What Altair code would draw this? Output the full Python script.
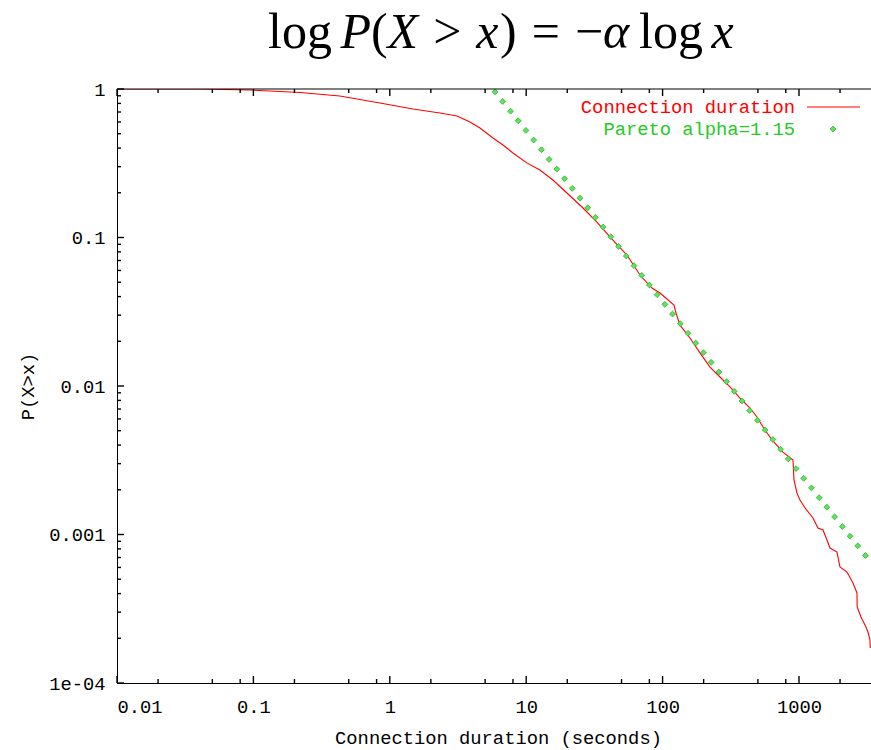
import math
import altair as alt
import pandas as pd

# ---------------- data ----------------
conn_x = [0.01, 0.0406, 0.0944, 0.22, 0.43, 0.847, 1.48, 2.33, 3.11, 3.87,
          4.58, 5.71, 6.76, 8.0, 10.1, 12.6, 15.7, 19.9, 26.1, 33.0,
          41.1, 54.8, 68.3, 83.6, 95.7, 121.2, 125.4, 134.2, 158.8, 188.0,
          222.6, 263.6, 312.0, 369.4, 437.3, 492.0, 545.0, 634.0, 763.0, 904.0,
          919.0, 967.0, 1017.0, 1107.0, 1266.0, 1378.0, 1500.0, 1604.0, 1688.0, 1899.0,
          1998.0, 2249.0, 2489.0, 2662.0, 2670.0, 2848.0, 3099.0, 3205.0, 3315.0, 3330.0]
conn_p = [1.0, 1.0, 0.985, 0.947, 0.897, 0.805, 0.733, 0.689, 0.658, 0.600,
          0.546, 0.468, 0.420, 0.371, 0.318, 0.285, 0.244, 0.1993, 0.158, 0.127,
          0.1008, 0.0762, 0.0559, 0.0457, 0.0423, 0.0351, 0.0310, 0.0257, 0.02104, 0.0167,
          0.01342, 0.0115, 0.00985, 0.0083, 0.00711, 0.00618, 0.0053, 0.00433, 0.00359, 0.003175,
          0.00233, 0.0019, 0.001707, 0.001509, 0.001291, 0.001106, 0.001072, 0.000918, 0.000811, 0.000762,
          0.000604, 0.000559, 0.000471, 0.000404, 0.000325, 0.000278, 0.000238, 0.000220, 0.000195, 0.000172]

pareto_x = [5.914, 6.737, 7.676, 8.743, 9.959, 11.34, 12.92, 14.72, 16.77, 19.10,
            21.76, 24.79, 28.24, 32.16, 36.64, 41.74, 47.53, 54.15, 61.68, 70.27,
            80.03, 91.19, 103.9, 118.3, 134.8, 153.6, 174.9, 199.2, 226.9, 258.5,
            294.4, 335.4, 382.1, 435.3, 495.9, 564.9, 643.5, 732.8, 834.8, 951.0,
            1083.0, 1234.0, 1406.0, 1601.0, 1824.0, 2078.0, 2367.0, 2696.0, 3071.0]
pareto_p = [0.957, 0.824, 0.709, 0.611, 0.526, 0.453, 0.390, 0.3355, 0.2888, 0.2486,
            0.2141, 0.1842, 0.1586, 0.1366, 0.1176, 0.1012, 0.0871, 0.0750, 0.0646, 0.0556,
            0.0479, 0.0412, 0.03546, 0.03054, 0.02629, 0.02263, 0.01949, 0.01678, 0.01444, 0.01243,
            0.01070, 0.00921, 0.00793, 0.00683, 0.00588, 0.00506, 0.00436, 0.00375, 0.00323, 0.00278,
            0.00239, 0.00206, 0.00177, 0.001527, 0.001314, 0.001131, 0.000974, 0.000839, 0.000722]

series_names = ["Connection duration", "Pareto alpha=1.15"]

x_major = [0.01, 0.1, 1, 10, 100, 1000]
x_major_labels = ["0.01", "0.1", "1", "10", "100", "1000"]
x_minor = [0.02, 0.05, 0.08, 0.2, 0.5, 0.8, 2, 5, 8, 20, 50, 80, 200, 500, 800, 2000]
y_major = [1, 0.1, 0.01, 0.001, 0.0001]
y_major_labels = ["1", "0.1", "0.01", "0.001", "1e-04"]
y_minor = [k * 10.0 ** e for e in (-4, -3, -2, -1) for k in range(2, 10)]

x_domain = [0.01, 3373]
y_domain = [0.0001, 1]

# ---------------- layout ----------------
W, H = 754, 594
MONO = "Liberation Mono"
FS = 18.8

def label_expr(vals, labs):
    parts = [f"abs(log(datum.value)/LN10 - ({math.log10(v):.4f})) < 0.01 ? '{l}'" for v, l in zip(vals, labs)]
    return " : ".join(parts) + " : ''"

xscale = alt.Scale(type="log", domain=x_domain, nice=False, zero=False)
yscale = alt.Scale(type="log", domain=y_domain, nice=False, zero=False)

# main axes: labels + border line
x_axis = alt.Axis(values=x_major, labelExpr=label_expr(x_major, x_major_labels), ticks=False, grid=False,
                  domain=True, domainColor="black", domainWidth=1, labelFont=MONO, labelFontSize=FS,
                  labelColor="black", labelPadding=14, title="Connection duration (seconds)",
                  titleFont=MONO, titleFontSize=FS, titleFontWeight="normal", titleColor="black",
                  titleX=381, titleY=54, titleBaseline="middle", titleAlign="center")
y_axis = alt.Axis(values=y_major, labelExpr=label_expr(y_major, y_major_labels), ticks=False, grid=False,
                  domain=True, domainColor="black", domainWidth=1, labelFont=MONO, labelFontSize=FS,
                  labelColor="black", labelPadding=12, labelBaseline="middle", title="P(X>x)",
                  titleFont=MONO, titleFontSize=FS, titleFontWeight="normal", titleColor="black",
                  titleX=-90, titleY=H / 2, titleBaseline="middle", titleAlign="center", titleAngle=-90)

one = pd.DataFrame({"a": [0]})
conn_df = pd.DataFrame({"x": conn_x, "y": conn_p, "i": list(range(len(conn_x)))})
par_df = pd.DataFrame({"x": pareto_x, "y": pareto_p})

X = alt.X("x:Q", scale=xscale, axis=x_axis)
Y = alt.Y("y:Q", scale=yscale, axis=y_axis)

layers = []
layers.append(alt.Chart(conn_df).mark_line(color="#ff0000", strokeWidth=1.1, clip=True).encode(
    x=X, y=Y, order="i:Q"))
layers.append(alt.Chart(par_df).mark_point(shape="diamond", filled=True, size=34, fill="#66dd66",
                                           stroke="#2cbf2c", strokeWidth=0.9, opacity=1, clip=True).encode(
    x=X, y=Y))

# inward tick marks (gnuplot style) drawn as short rules
TICK_COLOR = "#000000"
TICK_W = 1.4

def xt(vals, ln, top):
    y0, y1 = (0, ln) if top else (H, H - ln)
    return alt.Chart(pd.DataFrame({"x": vals})).mark_rule(color=TICK_COLOR, strokeWidth=TICK_W, opacity=1).encode(
        x=X, y=alt.value(y0), y2=alt.value(y1))

def yt(vals, ln):
    return alt.Chart(pd.DataFrame({"y": vals})).mark_rule(color=TICK_COLOR, strokeWidth=TICK_W, opacity=1).encode(
        y=Y, x=alt.value(0), x2=alt.value(ln))

layers += [xt(x_major, 7, False), xt(x_minor, 4, False), xt(x_major, 7, True), xt(x_minor, 4, True),
           yt(y_major, 7), yt(y_minor, 4)]

# top border
layers.append(alt.Chart(one).mark_rule(color="black", strokeWidth=1).encode(
    x=alt.value(0), x2=alt.value(W), y=alt.value(0)))

# legend
layers.append(alt.Chart(one).mark_text(text=series_names[0], font=MONO, fontSize=FS, color="#ff0000",
                                       align="right", baseline="middle").encode(
    x=alt.value(678), y=alt.value(18)))
layers.append(alt.Chart(one).mark_text(text=series_names[1], font=MONO, fontSize=FS, color="#22cc22",
                                       align="right", baseline="middle").encode(
    x=alt.value(678), y=alt.value(40)))
layers.append(alt.Chart(one).mark_rule(color="#ff0000", strokeWidth=1.1).encode(
    x=alt.value(690), x2=alt.value(743), y=alt.value(18)))
layers.append(alt.Chart(one).mark_point(shape="diamond", filled=True, size=34, fill="#66dd66",
                                        stroke="#2cbf2c", strokeWidth=0.9, opacity=1).encode(
    x=alt.value(716), y=alt.value(40)))

# title: log P(X > x) = −α log x  (math-style, serif)
GW = {'l': 0.278, 'o': 0.5, 'g': 0.5, '(': 0.333, ')': 0.333, '>': 0.564, '=': 0.564,
      '\u2212': 0.564, 'P': 0.611, 'X': 0.611, 'x': 0.444, '\u03b1': 0.55}
pieces = [("log", False, 0.0), ("P", True, 0.17), ("(", False, 0.0), ("X", True, 0.0),
          (">", False, 0.3), ("x", True, 0.3), (")", False, 0.03), ("=", False, 0.3),
          ("\u2212", False, 0.3), ("\u03b1", True, 0.0), ("log", False, 0.17), ("x", True, 0.17)]
TFS = 50
cur = 268 - 117
for t, it, gap in pieces:
    cur += gap * TFS
    layers.append(alt.Chart(one).mark_text(text=t, font="Liberation Serif", fontSize=TFS,
                                           fontStyle="italic" if it else "normal", align="left",
                                           baseline="alphabetic", color="black").encode(
        x=alt.value(cur), y=alt.value(48 - 89)))
    cur += sum(GW[c] for c in t) * TFS

chart = alt.layer(*layers).properties(
    width=W, height=H,
    autosize=alt.AutoSizeParams(type="none"),
    padding={"left": 117, "top": 89, "right": 0, "bottom": 67},
    background="white",
).configure_view(stroke=None)

chart.save("out.html", embed_options={"renderer": "svg", "actions": False})
